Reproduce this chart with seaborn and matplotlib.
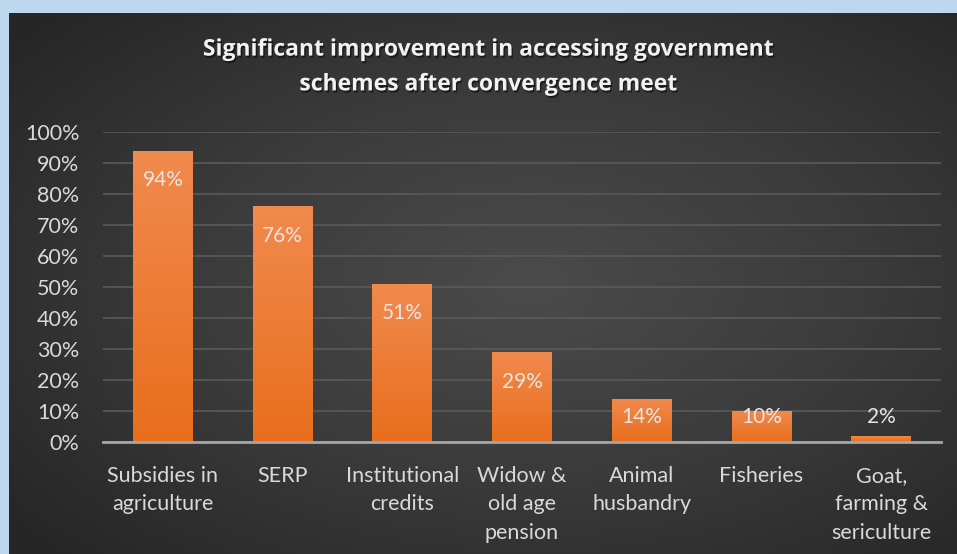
import numpy as np
import pandas as pd
import matplotlib
matplotlib.use("Agg")
import matplotlib.pyplot as plt
import matplotlib.patheffects as pe
from matplotlib.colors import LinearSegmentedColormap
import seaborn as sns

categories = ["Subsidies in\nagriculture", "SERP", "Institutional\ncredits",
              "Widow &\nold age\npension", "Animal\nhusbandry", "Fisheries",
              "Goat,\nfarming &\nsericulture"]
values = [0.94, 0.76, 0.51, 0.29, 0.14, 0.10, 0.02]
value_labels = ["94%", "76%", "51%", "29%", "14%", "10%", "2%"]
yticks = [0.0, 0.1, 0.2, 0.3, 0.4, 0.5, 0.6, 0.7, 0.8, 0.9, 1.0]
ytick_labels = ["0%", "10%", "20%", "30%", "40%", "50%", "60%", "70%", "80%", "90%", "100%"]
title = "Significant improvement in accessing government\nschemes after convergence meet"

sns.set_theme(style="dark")
plt.rcParams['font.family'] = ['Lato', 'DejaVu Sans']

W, H = 957, 554
fig = plt.figure(figsize=(W / 100, H / 100), dpi=100)
fig.patch.set_facecolor("#BDD7EE")

# background with radial gradient
bg = fig.add_axes([9 / W, 0, (W - 9) / W, (H - 13) / H])
bg.set_axis_off()
yy, xx = np.mgrid[0:1:300j, 0:1:500j]
r = np.sqrt(((xx - 0.55) / 0.75) ** 2 + ((yy - 0.5) / 0.75) ** 2)
cmap_bg = LinearSegmentedColormap.from_list("bg", ["#4b4b4b", "#3b3b3b", "#262626"])
bg.imshow(r, cmap=cmap_bg, aspect="auto", extent=[0, 1, 0, 1], vmin=0, vmax=0.95)
bg.set_xlim(0, 1)
bg.set_ylim(0, 1)

x0, x1 = 103, 941
y0, y1 = 442, 132
ax = fig.add_axes([x0 / W, (H - y0) / H, (x1 - x0) / W, (y0 - y1) / H])
ax.patch.set_alpha(0)

df = pd.DataFrame({"category": categories, "value": values})
sns.barplot(data=df, x="category", y="value", color="#ED7D31", width=0.5,
            saturation=1, ax=ax, zorder=3, linewidth=0, edgecolor="none")

grad = np.linspace(0, 1, 256).reshape(-1, 1)
cmap_bar = LinearSegmentedColormap.from_list("bar", ["#E86E1C", "#F18A4E"])
for p in ax.patches:
    bx, by, bw, bh = p.get_x(), p.get_y(), p.get_width(), p.get_height()
    p.set_path_effects([pe.SimplePatchShadow(offset=(0, 0), shadow_rgbFace="black", alpha=0.35),
                        pe.Normal()])
    im = ax.imshow(grad, cmap=cmap_bar, aspect="auto", origin="lower",
                   extent=[bx, bx + bw, by, by + bh], zorder=4)
    im.set_clip_path(p)

for i, (v, lab) in enumerate(zip(values, value_labels)):
    ly = v - 0.095 if v > 0.2 else 0.08
    ax.text(i, ly, lab, ha="center", va="center", color="#E6E6E6",
            fontsize=15, zorder=6)

ax.set_xlim(-0.5, len(categories) - 0.5)
ax.set_ylim(0, 1.0)
ax.set_yticks(yticks)
ax.set_yticklabels(ytick_labels)
ax.grid(axis="y", color="#5a5a5a", linewidth=1.2, zorder=0)
ax.grid(axis="x", visible=False)
ax.set_axisbelow(True)
for s in ["top", "right", "left"]:
    ax.spines[s].set_visible(False)
ax.spines["bottom"].set_color("#A6A6A6")
ax.spines["bottom"].set_linewidth(2)
ax.spines["bottom"].set_zorder(7)
ax.tick_params(axis="y", length=0, pad=17, labelsize=15.5, labelcolor="#D9D9D9")
ax.tick_params(axis="x", length=0, pad=17, labelsize=15.5, labelcolor="#D9D9D9")
for t in ax.get_xticklabels():
    t.set_linespacing(1.55)
ax.set_xlabel("")
ax.set_ylabel("")

fig.text(488 / W, 1 - 67 / H, title, ha="center", va="center", color="#F2F2F2",
         fontsize=16.5, fontweight="bold", linespacing=1.6,
         family=["Open Sans", "DejaVu Sans"],
         path_effects=[pe.withSimplePatchShadow(offset=(1, -1.5), shadow_rgbFace="black", alpha=0.5)])

fig.savefig("out.png", dpi=100, facecolor=fig.get_facecolor())
